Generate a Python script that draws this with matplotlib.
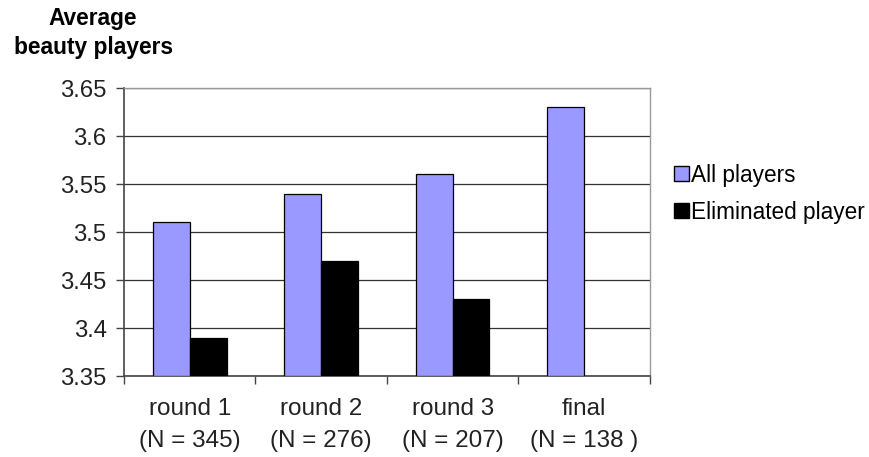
import numpy as np
import matplotlib
matplotlib.use("Agg")
import matplotlib.pyplot as plt
from matplotlib.patches import Patch

plt.rcParams['font.family'] = ['Liberation Sans', 'DejaVu Sans']

rounds = ['round 1\n(N = 345)', 'round 2\n(N = 276)', 'round 3\n(N = 207)', 'final\n(N = 138 )']
all_players = [3.51, 3.54, 3.56, 3.63]
eliminated = [3.39, 3.47, 3.43]
y_ticks = [3.35, 3.4, 3.45, 3.5, 3.55, 3.6, 3.65]

fig = plt.figure(figsize=(8.7, 4.57), dpi=100)
ax = fig.add_axes([0.1425, 0.1772, 0.6045, 0.6302])

x = np.arange(len(rounds))
w = 0.28
ax.bar(x - w / 2, [v - 3.35 for v in all_players], w, bottom=3.35,
       color='#9999ff', edgecolor='black', linewidth=0.9, zorder=3)
ax.bar(x[:len(eliminated)] + w / 2, [v - 3.35 for v in eliminated], w, bottom=3.35,
       color='black', edgecolor='black', linewidth=0.9, zorder=3)

ax.set_xlim(-0.5, len(rounds) - 0.5)
ax.set_ylim(3.35, 3.65)
ax.set_yticks(y_ticks)
ax.set_yticklabels(['%g' % t for t in y_ticks], fontsize=17.2, color='#222222')
ax.yaxis.grid(True, color='#333333', linewidth=0.9, zorder=0)

# category boundaries carry the x ticks, names sit in between
ax.set_xticks(np.arange(len(rounds) + 1) - 0.5)
ax.set_xticklabels([])
ax.set_xticks(x, minor=True)
ax.set_xticklabels(rounds, minor=True, fontsize=17.5, linespacing=1.6, color='#222222')
ax.tick_params(axis='x', which='minor', length=0, pad=15.5)
ax.tick_params(axis='x', which='major', length=6, width=1, color='#444444')
ax.tick_params(axis='y', length=6, width=1, color='#444444', pad=6.5)

for side in ['left', 'bottom']:
    ax.spines[side].set_color('#444444')
    ax.spines[side].set_linewidth(1.2)
for side in ['top', 'right']:
    ax.spines[side].set_color('#999999')
    ax.spines[side].set_linewidth(1.0)

fig.text(0.107, 0.96, 'Average', fontsize=16.4, fontweight='bold', ha='center', va='center')
fig.text(0.107, 0.895, 'beauty players', fontsize=16.4, fontweight='bold', ha='center', va='center')

handles = [Patch(facecolor='#9999ff', edgecolor='black', label='All players'),
           Patch(facecolor='black', edgecolor='black', label='Eliminated player')]
fig.legend(handles=handles, loc='center left', bbox_to_anchor=(0.775, 0.576),
           frameon=False, fontsize=16.3, handlelength=0.65, handleheight=0.65,
           handletextpad=0.08, labelspacing=0.62, borderaxespad=0, borderpad=0)

fig.savefig('out.png', dpi=100)
